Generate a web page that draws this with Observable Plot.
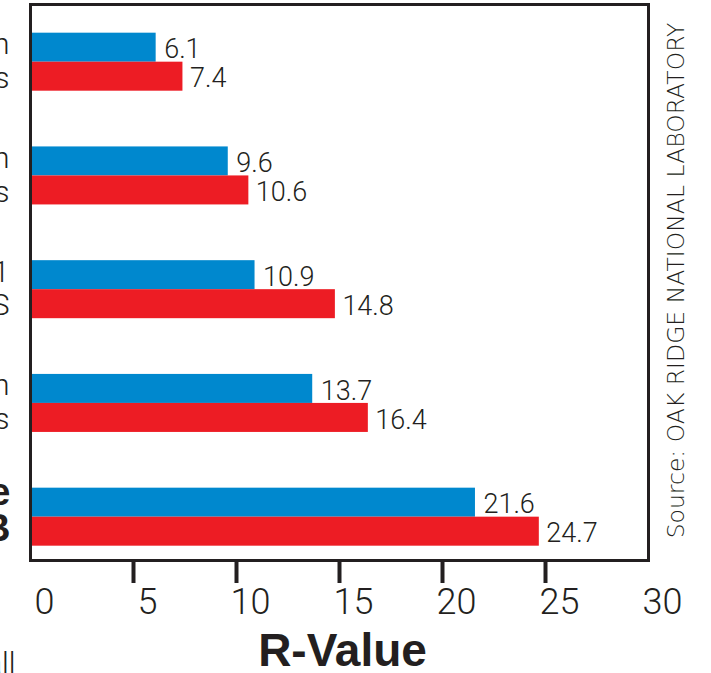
<!DOCTYPE html>
<html><head><meta charset="utf-8">
<script src="https://cdn.jsdelivr.net/npm/d3@7"></script>
<script src="https://cdn.jsdelivr.net/npm/@observablehq/plot@0.6"></script>
<style>
html,body{margin:0;padding:0;background:#fff}
#chart svg{display:block;overflow:hidden}
</style>
</head><body><div id="chart"></div>
<script>
// Row keys (the category names are cut off at the left edge of the picture; only their last letters show)
const categories = ["r1", "r2", "r3", "r4", "r5"];
const labelTop = ["n", "n", "1", "n", "e"];
const labelBottom = ["s", "s", "S", "s", "B"];
const seriesBlue = [6.1, 9.6, 10.9, 13.7, 21.6];
const seriesRed = [7.4, 10.6, 14.8, 16.4, 24.7];
const xTicks = [0, 5, 10, 15, 20, 25, 30];
const tickMarks = [5, 10, 15, 20, 25];
const xTitle = "R-Value";
const sourceText = "Source: OAK RIDGE NATIONAL LABORATORY";
const footFragment = "all";

const rows = categories.map((c, i) => ({
  cat: c, blue: seriesBlue[i], red: seriesRed[i], top: labelTop[i], bottom: labelBottom[i], idx: i
}));

const ink = "#231f20";
const blue = "#0088ce";
const red = "#ed1c24";
const half = 29;

const chart = Plot.plot({
  width: 711, height: 673,
  marginLeft: 30, marginRight: 63, marginTop: 4, marginBottom: 113,
  x: {domain: [0, 30], axis: null},
  y: {domain: categories, axis: null, paddingInner: 0.49, paddingOuter: 0.189, align: 0.667, round: false},
  style: {fontFamily: "Roboto, 'Liberation Sans', sans-serif", color: ink, background: "#fff"},
  marks: [
    Plot.barX(rows, {x: "blue", y: "cat", fill: blue, insetBottom: half}),
    Plot.barX(rows, {x: "red", y: "cat", fill: red, insetTop: half}),
    Plot.text(rows, {x: "blue", y: "cat", text: d => d.blue.toFixed(1), textAnchor: "start", dx: 8, dy: -12.5, fontSize: 27, fontWeight: 300, fill: ink}),
    Plot.text(rows, {x: "red", y: "cat", text: d => d.red.toFixed(1), textAnchor: "start", dx: 7, dy: 16.5, fontSize: 27, fontWeight: 300, fill: ink}),
    Plot.frame({stroke: ink, strokeWidth: 3}),
    Plot.axisX(tickMarks, {anchor: "bottom", tickSize: 23, strokeWidth: 4, stroke: ink, tickFormat: () => "", label: null}),
    Plot.axisX(xTicks, {anchor: "bottom", tickSize: 0, tickPadding: 28, dx: 14, fontSize: 36, fontWeight: 300, fill: ink, label: null}),
    Plot.text(rows, {filter: d => d.idx < 4, y: "cat", frameAnchor: "left", text: d => d.top + "\n" + d.bottom, textAnchor: "end", dx: -21, dy: -2, fontSize: 30, fontWeight: 300, lineHeight: 1.13, fill: ink}),
    Plot.text(rows, {filter: d => d.idx === 4, y: "cat", frameAnchor: "left", text: d => d.top + "\n" + d.bottom, textAnchor: "end", dx: -20, dy: -6, fontSize: 38, fontWeight: "bold", fontFamily: "'Liberation Sans', sans-serif", lineHeight: 0.96, fill: ink}),
    Plot.text([xTitle], {text: d => d, frameAnchor: "bottom", lineAnchor: "bottom", dx: 3, dy: 105, fontSize: 46, fontWeight: "bold", fontFamily: "'Liberation Sans', Arial, sans-serif", fill: ink}),
    Plot.text([sourceText], {text: d => d, frameAnchor: "right", textAnchor: "middle", rotate: -90, dx: 28, dy: -2, fontSize: 23.5, fontWeight: 200, letterSpacing: 1.3, fontFamily: "'DejaVu Sans', sans-serif", fill: ink}),
    Plot.text([footFragment], {text: d => d, frameAnchor: "bottom-left", textAnchor: "end", lineAnchor: "bottom", dx: -15, dy: 112, fontSize: 30, fontWeight: 300, fill: ink})
  ]
});
document.getElementById("chart").appendChild(chart);
</script>
</body></html>
